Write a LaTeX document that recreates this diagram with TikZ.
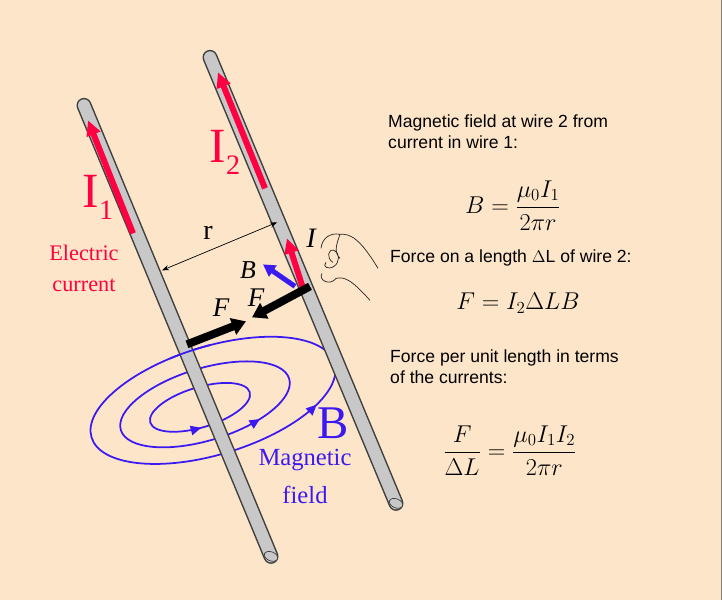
\documentclass[tikz,border=0pt]{standalone}
\usepackage{fontspec}
\setmainfont{Liberation Serif}
\newfontfamily\arialf{Liberation Sans}
\usetikzlibrary{arrows.meta,decorations.markings}
\definecolor{bg}{HTML}{FDE5C9}
\definecolor{wiregray}{HTML}{C8C8C8}
\definecolor{fred}{HTML}{FF0040}
\definecolor{fblue}{HTML}{3A1AF0}
\begin{document}
\begin{tikzpicture}[x=0.03cm,y=-0.03cm,
  wireout/.style={line width=15*0.03cm, draw=black!75, line cap=round},
  wirein/.style={line width=12*0.03cm, draw=wiregray, line cap=round},
  redarrow/.style={draw=fred, line width=6*0.03cm, -{Triangle[length=15*0.03cm,width=14*0.03cm]}},
  forcearrow/.style={draw=black, line width=8*0.03cm, -{Triangle[length=14*0.03cm,width=17*0.03cm]}},
  fieldloop/.style={draw=fblue, line width=1.5pt, postaction={decorate}, decoration={markings, mark=at position #1 with {\arrowreversed{Triangle[length=9pt,width=8pt]}}}},
  txt/.style={font=\arialf\fontsize{15}{18}\selectfont, anchor=west, align=left, inner sep=0},
  lbl/.style={inner sep=0}]
\fill[bg] (0,0) rectangle (722,600);
\draw[black!50, line width=0.6pt] (721,0) -- (721,600);
\useasboundingbox (0,0) rectangle (722,600);
% field loops (behind wire)
\draw[fieldloop=0.08, rotate around={17:(213,400)}] (213,400) ellipse [x radius=127, y radius=54];
\draw[fieldloop=0.13, rotate around={17:(205,404)}] (205,404) ellipse [x radius=88, y radius=36];
\draw[fieldloop=0.27, rotate around={17:(200,407)}] (200,407) ellipse [x radius=52, y radius=20];
% wires
\coordinate (w1a) at (84,105); \coordinate (w1b) at (271,556);
\coordinate (w2a) at (210,57); \coordinate (w2b) at (396,503);
\draw[wireout] (w1a) -- (w1b); \draw[wirein] (w1a) -- (w1b);
\draw[wireout] (w2a) -- (w2b); \draw[wirein] (w2a) -- (w2b);
\draw[black!75, fill=wiregray, line width=0.6pt, rotate around={-22:(271,556)}] (271,556) ellipse [x radius=7, y radius=4.5];
\draw[black!75, fill=wiregray, line width=0.6pt, rotate around={-22:(396,503)}] (396,503) ellipse [x radius=7, y radius=4.5];
% top part of outer loop over wire 1
\begin{scope}
\clip (170,330) rectangle (210,372);
\draw[fblue, line width=1.5pt, rotate around={17:(213,400)}] (213,400) ellipse [x radius=127, y radius=54];
\end{scope}
% red current arrows
\coordinate (r1a) at (133,233); \coordinate (r1b) at (88,120);
\coordinate (r2a) at (265,188); \coordinate (r2b) at (218,72);
\coordinate (r3a) at (303,288); \coordinate (r3b) at (287,238);
\draw[redarrow] (r1a) -- (r1b);
\draw[redarrow] (r2a) -- (r2b);
\draw[redarrow] (r3a) -- (r3b);
% B arrow
\coordinate (ba) at (295,286); \coordinate (bb) at (263,264);
\draw[draw=fblue, line width=5*0.03cm, -{Triangle[length=12*0.03cm,width=13*0.03cm]}] (ba) -- (bb);
% force arrows
\coordinate (f1a) at (187,344); \coordinate (f1b) at (246,321);
\coordinate (f2a) at (310,286); \coordinate (f2b) at (252,317);
\draw[forcearrow] (f1a) -- (f1b);
\draw[forcearrow] (f2a) -- (f2b);
% r dimension
\coordinate (ra) at (162,270); \coordinate (rb) at (277,222);
\draw[line width=0.6pt, {Stealth[length=6pt]}-{Stealth[length=6pt]}] (ra) -- (rb);
% hand
\draw[line width=0.6pt, black!85]
  (321,248) .. controls (322,238) and (330,232) .. (340,234)
  .. controls (350,233) and (360,238) .. (378,268)
  (340,234) .. controls (336,245) and (334,252) .. (340,258)
  (333,262) .. controls (326,258) and (328,248) .. (334,250)
  .. controls (340,252) and (340,262) .. (334,266)
  .. controls (328,270) and (322,266) .. (326,262)
  (322,273) .. controls (318,280) and (330,286) .. (336,278)
  .. controls (345,276) and (352,280) .. (370,300);
% labels
\node[lbl, text=fred, font=\fontsize{42}{42}\selectfont] (i1) at (98,197) {I\raisebox{-0.25em}{\fontsize{24}{24}\selectfont 1}};
\node[lbl, text=fred, font=\fontsize{42}{42}\selectfont] (i2) at (225,152) {I\raisebox{-0.25em}{\fontsize{24}{24}\selectfont 2}};
\node[lbl, text=fred, font=\fontsize{19}{26}\selectfont, align=center] (ec) at (84,268) {Electric\\current};
\node[lbl, font=\fontsize{24}{24}\selectfont] (rl) at (208,233) {r};
\node[lbl, font=\itshape\fontsize{24}{24}\selectfont] (il) at (311,238) {I};
\node[lbl, font=\itshape\fontsize{22}{22}\selectfont] (bl) at (248,270) {B};
\node[lbl, font=\itshape\fontsize{23}{23}\selectfont] (fl2) at (256,297) {F};
\node[lbl, font=\itshape\fontsize{23}{23}\selectfont] (fl1) at (221,307) {F};
\node[lbl, text=fblue, font=\fontsize{40}{40}\selectfont] (bbig) at (333,423) {B};
\node[lbl, text=fblue, font=\fontsize{21}{33}\selectfont, align=center] (mf) at (305,476) {Magnetic\\field};
% right side text
\node[txt] (t1) at (388,131) {Magnetic field at wire 2 from\\current in wire 1:};
\node[lbl, font=\fontsize{20}{20}\selectfont] (e1) at (513,205) {$\displaystyle B=\frac{\mu_0 I_1}{2\pi r}$};
\node[txt] (t2) at (390,258) {Force on a length $\Delta$L of wire 2:};
\node[lbl, font=\fontsize{20}{20}\selectfont] (e2) at (518,303) {$F=I_2\Delta LB$};
\node[txt] (t3) at (390,366) {Force per unit length in terms\\of the currents:};
\node[lbl, font=\fontsize{20}{20}\selectfont] (e3) at (510,450) {$\displaystyle \frac{F}{\Delta L}=\frac{\mu_0 I_1 I_2}{2\pi r}$};
\end{tikzpicture}
\end{document}
